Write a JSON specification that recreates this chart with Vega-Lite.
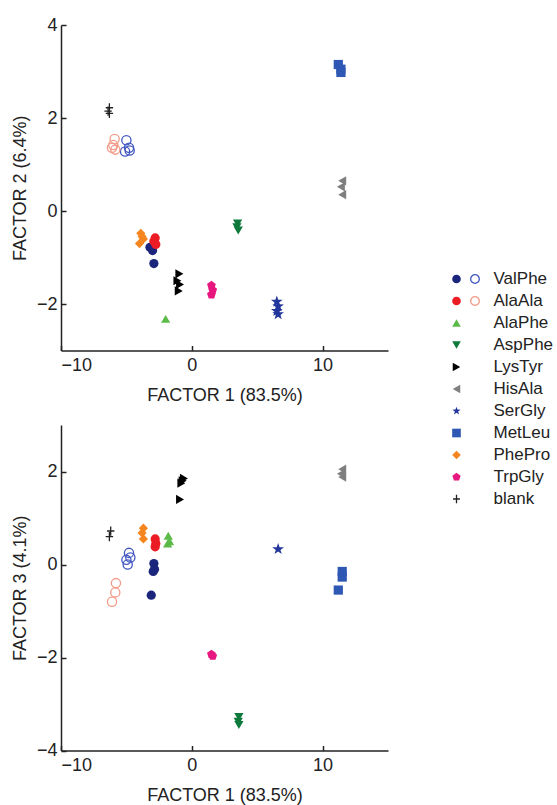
{
  "$schema": "https://vega.github.io/schema/vega-lite/v6.json",
  "background": "white",
  "padding": {"left": 11, "top": 16, "right": 2, "bottom": 0},
  "datasets": {
    "pts": [
      {"p":"2","s":"ValPhe","x":-3.2,"y":-0.78},{"p":"2","s":"ValPhe","x":-3.0,"y":-0.85},{"p":"2","s":"ValPhe","x":-2.9,"y":-1.13},
      {"p":"2","s":"ValPhe open","x":-5.0,"y":1.52},{"p":"2","s":"ValPhe open","x":-4.8,"y":1.36},{"p":"2","s":"ValPhe open","x":-5.1,"y":1.28},{"p":"2","s":"ValPhe open","x":-4.75,"y":1.3},
      {"p":"2","s":"AlaAla","x":-2.8,"y":-0.58},{"p":"2","s":"AlaAla","x":-2.9,"y":-0.65},{"p":"2","s":"AlaAla","x":-2.75,"y":-0.72},
      {"p":"2","s":"AlaAla open","x":-5.9,"y":1.55},{"p":"2","s":"AlaAla open","x":-6.0,"y":1.42},{"p":"2","s":"AlaAla open","x":-5.85,"y":1.32},{"p":"2","s":"AlaAla open","x":-6.1,"y":1.36},
      {"p":"2","s":"AlaPhe","x":-2.0,"y":-2.32},
      {"p":"2","s":"AspPhe","x":3.5,"y":-0.27},{"p":"2","s":"AspPhe","x":3.45,"y":-0.35},{"p":"2","s":"AspPhe","x":3.55,"y":-0.42},
      {"p":"2","s":"LysTyr","x":-0.95,"y":-1.35},{"p":"2","s":"LysTyr","x":-1.1,"y":-1.5},{"p":"2","s":"LysTyr","x":-0.9,"y":-1.58},{"p":"2","s":"LysTyr","x":-1.0,"y":-1.72},
      {"p":"2","s":"HisAla","x":11.5,"y":0.65},{"p":"2","s":"HisAla","x":11.4,"y":0.52},{"p":"2","s":"HisAla","x":11.5,"y":0.35},
      {"p":"2","s":"SerGly","x":6.5,"y":-1.95},{"p":"2","s":"SerGly","x":6.6,"y":-2.05},{"p":"2","s":"SerGly","x":6.5,"y":-2.15},{"p":"2","s":"SerGly","x":6.6,"y":-2.22},
      {"p":"2","s":"MetLeu","x":11.2,"y":3.15},{"p":"2","s":"MetLeu","x":11.4,"y":3.05},{"p":"2","s":"MetLeu","x":11.4,"y":2.98},
      {"p":"2","s":"PhePro","x":-3.9,"y":-0.48},{"p":"2","s":"PhePro","x":-3.7,"y":-0.6},{"p":"2","s":"PhePro","x":-4.0,"y":-0.7},{"p":"2","s":"PhePro","x":-3.8,"y":-0.55},
      {"p":"2","s":"TrpGly","x":1.5,"y":-1.6},{"p":"2","s":"TrpGly","x":1.6,"y":-1.7},{"p":"2","s":"TrpGly","x":1.5,"y":-1.8},
      {"p":"2","s":"blank","x":-6.3,"y":2.22},{"p":"2","s":"blank","x":-6.4,"y":2.15},{"p":"2","s":"blank","x":-6.3,"y":2.1},
      {"p":"3","s":"ValPhe","x":-2.9,"y":0.02},{"p":"3","s":"ValPhe","x":-2.85,"y":-0.1},{"p":"3","s":"ValPhe","x":-2.95,"y":-0.15},{"p":"3","s":"ValPhe","x":-3.1,"y":-0.66},
      {"p":"3","s":"ValPhe open","x":-4.8,"y":0.25},{"p":"3","s":"ValPhe open","x":-5.0,"y":0.1},{"p":"3","s":"ValPhe open","x":-4.9,"y":0.0},{"p":"3","s":"ValPhe open","x":-4.7,"y":0.15},
      {"p":"3","s":"AlaAla","x":-2.8,"y":0.55},{"p":"3","s":"AlaAla","x":-2.75,"y":0.45},{"p":"3","s":"AlaAla","x":-2.8,"y":0.38},
      {"p":"3","s":"AlaAla open","x":-5.8,"y":-0.4},{"p":"3","s":"AlaAla open","x":-5.85,"y":-0.6},{"p":"3","s":"AlaAla open","x":-6.1,"y":-0.8},
      {"p":"3","s":"AlaPhe","x":-1.8,"y":0.62},{"p":"3","s":"AlaPhe","x":-1.7,"y":0.5},{"p":"3","s":"AlaPhe","x":-1.85,"y":0.45},
      {"p":"3","s":"AspPhe","x":3.6,"y":-3.28},{"p":"3","s":"AspPhe","x":3.55,"y":-3.38},{"p":"3","s":"AspPhe","x":3.6,"y":-3.45},
      {"p":"3","s":"LysTyr","x":-0.6,"y":1.85},{"p":"3","s":"LysTyr","x":-0.7,"y":1.8},{"p":"3","s":"LysTyr","x":-0.8,"y":1.75},{"p":"3","s":"LysTyr","x":-0.9,"y":1.4},
      {"p":"3","s":"HisAla","x":11.5,"y":2.05},{"p":"3","s":"HisAla","x":11.4,"y":1.95},{"p":"3","s":"HisAla","x":11.5,"y":1.88},
      {"p":"3","s":"SerGly","x":6.6,"y":0.33},
      {"p":"3","s":"MetLeu","x":11.5,"y":-0.15},{"p":"3","s":"MetLeu","x":11.5,"y":-0.27},{"p":"3","s":"MetLeu","x":11.2,"y":-0.55},
      {"p":"3","s":"PhePro","x":-3.7,"y":0.78},{"p":"3","s":"PhePro","x":-3.8,"y":0.68},{"p":"3","s":"PhePro","x":-3.7,"y":0.55},
      {"p":"3","s":"TrpGly","x":1.5,"y":-1.93},{"p":"3","s":"TrpGly","x":1.6,"y":-1.97},
      {"p":"3","s":"blank","x":-6.2,"y":0.72},{"p":"3","s":"blank","x":-6.3,"y":0.6}
    ],
    "leg": [
      {"s":"ValPhe","label":"ValPhe","rank":1,"col":"a","t":"c"},{"s":"ValPhe open","label":"ValPhe","rank":1,"col":"b","t":"c"},
      {"s":"AlaAla","label":"AlaAla","rank":2,"col":"a","t":"c"},{"s":"AlaAla open","label":"AlaAla","rank":2,"col":"b","t":"c"},
      {"s":"AlaPhe","label":"AlaPhe","rank":3,"col":"a","t":"c"},
      {"s":"AspPhe","label":"AspPhe","rank":4,"col":"a","t":"c"},
      {"s":"LysTyr","label":"LysTyr","rank":5,"col":"a","t":"c"},
      {"s":"HisAla","label":"HisAla","rank":6,"col":"a","t":"c"},
      {"s":"SerGly","label":"SerGly","rank":7,"col":"a","t":"c"},
      {"s":"MetLeu","label":"MetLeu","rank":8,"col":"a","t":"c"},
      {"s":"PhePro","label":"PhePro","rank":9,"col":"a","t":"c"},
      {"s":"TrpGly","label":"TrpGly","rank":10,"col":"a","t":"c"},
      {"s":"blank","label":"blank","rank":11,"col":"a","t":"c"}
    ]
  },
  "config": {
    "view": {"stroke": null},
    "font": "Liberation Sans",
    "axis": {
      "grid": false,
      "domainColor": "#222222",
      "domainWidth": 1.5,
      "tickColor": "#222222",
      "tickWidth": 1.5,
      "tickSize": -5,
      "labelFontSize": 18,
      "labelColor": "#222222",
      "titleFontSize": 18,
      "titleFontWeight": "normal",
      "titleColor": "#222222"
    },
    "axisX": {"labelPadding": 11, "titlePadding": 12},
    "axisY": {"labelPadding": 9, "titlePadding": 7}
  },
  "spacing": 50,
  "hconcat": [
    {
      "spacing": 20,
      "vconcat": [
        {
          "width": 327,
          "height": 325.5,
          "data": {"name": "pts"},
          "transform": [{"filter": "datum.p == '2'"}],
          "encoding": {
            "x": {"field": "x", "type": "quantitative", "scale": {"domain": [-10, 15], "nice": false, "zero": false}, "axis": {"values": [-10, 0, 10], "title": "FACTOR 1 (83.5%)"}},
            "y": {"field": "y", "type": "quantitative", "scale": {"domain": [-3, 4], "nice": false, "zero": false}, "axis": {"values": [-2, 0, 2, 4], "title": "FACTOR 2 (6.4%)"}},
            "color": {"field": "s", "type": "nominal", "legend": null,
              "scale": {"domain": ["ValPhe","ValPhe open","AlaAla","AlaAla open","AlaPhe","AspPhe","LysTyr","HisAla","SerGly","MetLeu","PhePro","TrpGly","blank"],
                        "range": ["#1b257c","#4057c0","#ec1c24","#f49a88","#5cbb48","#0d7a3c","#000000","#7f7f7f","#22369c","#2f58b5","#f5861f","#e8167f","#222222"]}},
            "shape": {"field": "s", "type": "nominal", "legend": null,
              "scale": {"domain": ["ValPhe","ValPhe open","AlaAla","AlaAla open","AlaPhe","AspPhe","LysTyr","HisAla","SerGly","MetLeu","PhePro","TrpGly","blank"],
                        "range": ["circle","circle","circle","circle","triangle-up","triangle-down","triangle-right","triangle-left",
                                  "M0,-1L0.235,-0.324L0.951,-0.309L0.38,0.124L0.588,0.809L0,0.4L-0.588,0.809L-0.38,0.124L-0.951,-0.309L-0.235,-0.324Z",
                                  "square","diamond",
                                  "M0,-1L0.951,-0.309L0.588,0.809L-0.588,0.809L-0.951,-0.309Z",
                                  "M-0.8,0L0.8,0M0,-1L0,1"]}}
          },
          "layer": [
            {"transform": [{"filter": {"not": {"field": "s", "oneOf": ["ValPhe open", "AlaAla open", "blank", "SerGly"]}}}], "mark": {"type": "point", "filled": true, "size": 85, "opacity": 1}},
            {"transform": [{"filter": {"field": "s", "oneOf": ["SerGly"]}}], "mark": {"type": "point", "filled": true, "size": 150, "opacity": 1}},
            {"transform": [{"filter": {"field": "s", "oneOf": ["ValPhe open", "AlaAla open", "blank"]}}], "mark": {"type": "point", "filled": false, "size": 85, "opacity": 1, "strokeWidth": 1.3}}
          ]
        },
        {
          "width": 327,
          "height": 325.5,
          "data": {"name": "pts"},
          "transform": [{"filter": "datum.p == '3'"}],
          "encoding": {
            "x": {"field": "x", "type": "quantitative", "scale": {"domain": [-10, 15], "nice": false, "zero": false}, "axis": {"values": [-10, 0, 10], "title": "FACTOR 1 (83.5%)"}},
            "y": {"field": "y", "type": "quantitative", "scale": {"domain": [-4, 3], "nice": false, "zero": false}, "axis": {"values": [-4, -2, 0, 2], "title": "FACTOR 3 (4.1%)"}},
            "color": {"field": "s", "type": "nominal", "legend": null},
            "shape": {"field": "s", "type": "nominal", "legend": null}
          },
          "layer": [
            {"transform": [{"filter": {"not": {"field": "s", "oneOf": ["ValPhe open", "AlaAla open", "blank", "SerGly"]}}}], "mark": {"type": "point", "filled": true, "size": 85, "opacity": 1}},
            {"transform": [{"filter": {"field": "s", "oneOf": ["SerGly"]}}], "mark": {"type": "point", "filled": true, "size": 150, "opacity": 1}},
            {"transform": [{"filter": {"field": "s", "oneOf": ["ValPhe open", "AlaAla open", "blank"]}}], "mark": {"type": "point", "filled": false, "size": 85, "opacity": 1, "strokeWidth": 1.3}}
          ]
        }
      ]
    },
    {
      "width": 74,
      "height": 728,
      "data": {"name": "leg"},
      "encoding": {
        "y": {"field": "rank", "type": "quantitative", "scale": {"domain": [-10.545, 22.545], "reverse": true, "nice": false, "zero": false}, "axis": null}
      },
      "layer": [
        {"transform": [{"filter": "datum.col == 'a' && datum.s != 'blank'"}], "mark": {"type": "point", "filled": true, "size": 75, "opacity": 1},
         "encoding": {
           "x": {"field": "col", "type": "nominal", "scale": {"type": "point", "domain": ["a", "b", "c"], "padding": 1}, "axis": null},
           "color": {"field": "s", "type": "nominal", "legend": null},
           "shape": {"field": "s", "type": "nominal", "legend": null}
         }},
        {"transform": [{"filter": "datum.col == 'b' || datum.s == 'blank'"}], "mark": {"type": "point", "filled": false, "size": 75, "opacity": 1, "strokeWidth": 1.3},
         "encoding": {
           "x": {"field": "col", "type": "nominal", "scale": {"type": "point", "domain": ["a", "b", "c"], "padding": 1}, "axis": null},
           "color": {"field": "s", "type": "nominal", "legend": null},
           "shape": {"field": "s", "type": "nominal", "legend": null}
         }},
        {"transform": [{"filter": "datum.col == 'a'"}], "mark": {"type": "text", "align": "left", "baseline": "middle", "fontSize": 17, "color": "#222222"},
         "encoding": {
           "x": {"field": "t", "type": "nominal", "scale": {"type": "point", "domain": ["a", "b", "c"], "padding": 1}, "axis": null},
           "text": {"field": "label"}
         }}
      ]
    }
  ]
}
